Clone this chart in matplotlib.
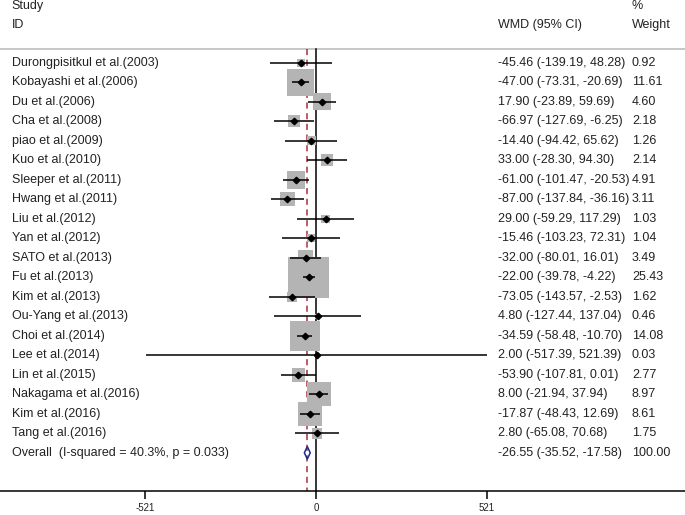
import numpy as np
import matplotlib
matplotlib.use("Agg")
import matplotlib.pyplot as plt
from matplotlib.patches import Polygon

plt.rcParams['font.family'] = ['Liberation Sans', 'DejaVu Sans']

studies = ["Durongpisitkul et al.(2003)", "Kobayashi et al.(2006)", "Du et al.(2006)",
           "Cha et al.(2008)", "piao et al.(2009)", "Kuo et al.(2010)",
           "Sleeper et al.(2011)", "Hwang et al.(2011)", "Liu et al.(2012)",
           "Yan et al.(2012)", "SATO et al.(2013)", "Fu et al.(2013)",
           "Kim et al.(2013)", "Ou-Yang et al.(2013)", "Choi et al.(2014)",
           "Lee et al.(2014)", "Lin et al.(2015)", "Nakagama et al.(2016)",
           "Kim et al.(2016)", "Tang et al.(2016)"]
wmd = [-45.46, -47.00, 17.90, -66.97, -14.40, 33.00, -61.00, -87.00, 29.00, -15.46,
       -32.00, -22.00, -73.05, 4.80, -34.59, 2.00, -53.90, 8.00, -17.87, 2.80]
ci_low = [-139.19, -73.31, -23.89, -127.69, -94.42, -28.30, -101.47, -137.84, -59.29, -103.23,
          -80.01, -39.78, -143.57, -127.44, -58.48, -517.39, -107.81, -21.94, -48.43, -65.08]
ci_high = [48.28, -20.69, 59.69, -6.25, 65.62, 94.30, -20.53, -36.16, 117.29, 72.31,
           16.01, -4.22, -2.53, 137.04, -10.70, 521.39, 0.01, 37.94, 12.69, 70.68]
weight = [0.92, 11.61, 4.60, 2.18, 1.26, 2.14, 4.91, 3.11, 1.03, 1.04,
          3.49, 25.43, 1.62, 0.46, 14.08, 0.03, 2.77, 8.97, 8.61, 1.75]

overall_label = "Overall  (I-squared = 40.3%, p = 0.033)"
overall_wmd = -26.55
overall_low = -35.52
overall_high = -17.58
overall_weight = 100.00

tick_values = [-521, 0, 521]

txt = '#222222'
fs = 9

W, H = 685, 515
fig = plt.figure(figsize=(W / 100, H / 100), dpi=100)
ax_bottom_px = 491
ax = fig.add_axes([0, (H - ax_bottom_px) / H, 1, ax_bottom_px / H])

# pixel layout: zero at 316 px, 521 at 486.7 px; rows start at 62.8 px, step 19.5 px
px_per_unit = (486.7 - 316) / 521
ax.set_xlim(-316 / px_per_unit, (W - 316) / px_per_unit)
row0, step = 62.8, 19.5
ax.set_ylim((ax_bottom_px - row0) / step, -row0 / step)

n = len(studies)
y = np.arange(n)
y_over = n
top_line = (49.3 - row0) / step

# header line
ax.axhline(top_line, color='#bdbdbd', lw=1.2, zorder=1)

# reference lines
ax.plot([0, 0], [top_line, ax.get_ylim()[0]], color='black', lw=1.1, zorder=1)
ax.plot([overall_wmd, overall_wmd], [top_line, ax.get_ylim()[0]], color='#a3313f',
        lw=1.1, ls=(0, (4, 3)), zorder=1)

# weight boxes (area proportional to weight)
sizes = 33.8 * np.array(weight)
ax.scatter(wmd, y, s=sizes, marker='s', color='#b4b4b4', linewidths=0, zorder=2)

# confidence intervals
ax.hlines(y, ci_low, ci_high, color='black', lw=1.1, zorder=3)
ax.plot(wmd, y, 'D', color='black', markersize=3.3, zorder=4)

# overall diamond
h = 6.3 / step
diamond = Polygon([[overall_low, y_over], [overall_wmd, y_over - h],
                   [overall_high, y_over], [overall_wmd, y_over + h]],
                  closed=True, facecolor='none', edgecolor='#1f2a8a', lw=1.1, zorder=4)
ax.add_patch(diamond)

# text columns
tr = ax.get_yaxis_transform()
x_lab, x_wmd, x_w = 11.7 / W, 498 / W, 632 / W
ax.text(x_lab, (6 - row0) / step, "Study", transform=tr, ha='left', va='center', fontsize=fs, color=txt)
ax.text(x_lab, (25 - row0) / step, "ID", transform=tr, ha='left', va='center', fontsize=fs, color=txt)
ax.text(x_wmd, (25 - row0) / step, "WMD (95% CI)", transform=tr, ha='left', va='center', fontsize=fs, color=txt)
ax.text(x_w, (6 - row0) / step, "%", transform=tr, ha='left', va='center', fontsize=fs, color=txt)
ax.text(x_w, (25 - row0) / step, "Weight", transform=tr, ha='left', va='center', fontsize=fs, color=txt)

for i in range(n):
    ax.text(x_lab, y[i], studies[i], transform=tr, ha='left', va='center', fontsize=fs, color=txt)
    ax.text(x_wmd, y[i], f"{wmd[i]:.2f} ({ci_low[i]:.2f}, {ci_high[i]:.2f})",
            transform=tr, ha='left', va='center', fontsize=fs, color=txt)
    ax.text(x_w, y[i], f"{weight[i]:.2f}", transform=tr, ha='left', va='center', fontsize=fs, color=txt)

ax.text(x_lab, y_over, overall_label, transform=tr, ha='left', va='center', fontsize=fs, color=txt)
ax.text(x_wmd, y_over, f"{overall_wmd:.2f} ({overall_low:.2f}, {overall_high:.2f})",
        transform=tr, ha='left', va='center', fontsize=fs, color=txt)
ax.text(x_w, y_over, f"{overall_weight:.2f}", transform=tr, ha='left', va='center', fontsize=fs, color=txt)

# axis
for s in ['top', 'left', 'right']:
    ax.spines[s].set_visible(False)
ax.spines['bottom'].set_linewidth(1.1)
ax.set_yticks([])
ax.set_xticks(tick_values)
ax.set_xticklabels([str(t) for t in tick_values])
ax.tick_params(axis='x', direction='out', length=5.8, width=1.1, labelsize=7, pad=3, labelcolor=txt)

fig.savefig('out.png', dpi=100)
